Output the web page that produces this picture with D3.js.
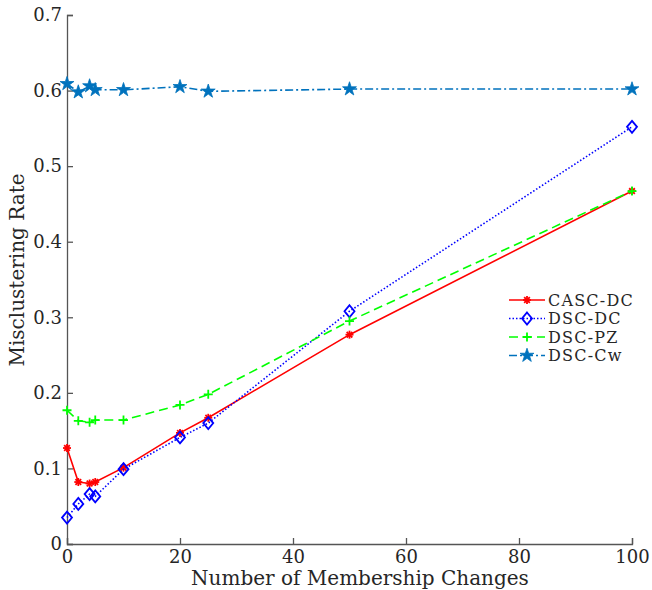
<!DOCTYPE html>
<html><head><meta charset="utf-8">
<script src="https://cdn.jsdelivr.net/npm/d3@7"></script>
<style>body{margin:0;background:#fff}svg{display:block}text{font-family:"DejaVu Serif","Liberation Serif",serif;fill:#262626}</style>
</head><body>
<script>
const xValues = [0, 2, 4, 5, 10, 20, 25, 50, 100];
const cascDC = [0.127, 0.082, 0.080, 0.082, 0.101, 0.147, 0.167, 0.277, 0.467];
const dscDC  = [0.035, 0.053, 0.066, 0.063, 0.099, 0.141, 0.160, 0.308, 0.552];
const dscPZ  = [0.177, 0.163, 0.161, 0.164, 0.164, 0.184, 0.198, 0.295, 0.467];
const dscCw  = [0.609, 0.598, 0.606, 0.601, 0.601, 0.605, 0.599, 0.602, 0.602];
const seriesNames = ["CASC-DC", "DSC-DC", "DSC-PZ", "DSC-Cw"];
const xTicks = [0, 20, 40, 60, 80, 100];
const yTicks = [0, 0.1, 0.2, 0.3, 0.4, 0.5, 0.6, 0.7];

const W = 652, H = 590;
const m = {left: 67, right: 20, top: 15, bottom: 46};
const svg = d3.select("body").append("svg").attr("width", W).attr("height", H);
const x = d3.scaleLinear().domain([0, 100]).range([m.left, W - m.right]);
const y = d3.scaleLinear().domain([0, 0.7]).range([H - m.bottom, m.top]);

const axisColor = "#555";
const gx = svg.append("g").attr("transform", `translate(0,${H - m.bottom})`)
  .call(d3.axisBottom(x).tickValues(xTicks).tickSize(-6).tickPadding(6).tickFormat(d3.format("d")));
const gy = svg.append("g").attr("transform", `translate(${m.left},0)`)
  .call(d3.axisLeft(y).tickValues(yTicks).tickSize(-6).tickPadding(5).tickFormat(d => d === 0 ? "0" : d3.format(".1f")(d)));
[gx, gy].forEach(g => {
  g.attr("font-family", null);
  g.select(".domain").attr("stroke", axisColor).attr("stroke-width", 1.3);
  g.selectAll(".tick line").attr("stroke", axisColor).attr("stroke-width", 1.3);
  g.selectAll(".tick text").attr("font-size", 18).style("font-family", '"DejaVu Serif","Liberation Serif",serif').attr("fill", "#262626");
});

svg.append("text").attr("x", 360).attr("y", 585)
  .attr("text-anchor", "middle").attr("font-size", 20).text("Number of Membership Changes");
svg.append("text").attr("transform", `translate(24,270) rotate(-90)`)
  .attr("text-anchor", "middle").attr("font-size", 20).text("Misclustering Rate");

const series = [
  {name: seriesNames[0], vals: cascDC, color: "#ff0000", dash: null, marker: "asterisk"},
  {name: seriesNames[1], vals: dscDC, color: "#0000ff", dash: "1.5,2", marker: "diamond"},
  {name: seriesNames[2], vals: dscPZ, color: "#00ff00", dash: "9,5", marker: "plus"},
  {name: seriesNames[3], vals: dscCw, color: "#0072BD", dash: "8,3,2,3", marker: "star"}
];

function drawMarker(g, type, cx, cy, color) {
  if (type === "asterisk") {
    const r = 4;
    for (let a = 0; a < 180; a += 45) {
      const t = a * Math.PI / 180;
      g.append("line").attr("x1", cx - r * Math.cos(t)).attr("y1", cy - r * Math.sin(t))
        .attr("x2", cx + r * Math.cos(t)).attr("y2", cy + r * Math.sin(t))
        .attr("stroke", color).attr("stroke-width", 1.8);
    }
  } else if (type === "diamond") {
    g.append("path").attr("d", `M${cx},${cy-6}L${cx+5},${cy}L${cx},${cy+6}L${cx-5},${cy}Z`)
      .attr("fill", "none").attr("stroke", color).attr("stroke-width", 1.8);
  } else if (type === "plus") {
    const r = 4.5;
    g.append("path").attr("d", `M${cx-r},${cy}H${cx+r}M${cx},${cy-r}V${cy+r}`)
      .attr("stroke", color).attr("stroke-width", 1.8);
  } else if (type === "star") {
    g.append("path").attr("d", d3.symbol().type(d3.symbolStar).size(60)())
      .attr("transform", `translate(${cx},${cy})`).attr("fill", color).attr("stroke", color).attr("stroke-width", 0.8);
  }
}

const line = d3.line().x(d => x(d[0])).y(d => y(d[1]));
series.forEach(s => {
  const pts = xValues.map((v, i) => [v, s.vals[i]]);
  const g = svg.append("g");
  g.append("path").attr("d", line(pts)).attr("fill", "none").attr("stroke", s.color)
    .attr("stroke-width", 1.6).attr("stroke-dasharray", s.dash);
  pts.forEach(p => drawMarker(g, s.marker, x(p[0]), y(p[1]), s.color));
});

// legend
const lg = svg.append("g");
series.forEach((s, i) => {
  const ly = 300 + i * 18.5;
  lg.append("line").attr("x1", 509).attr("x2", 545).attr("y1", ly).attr("y2", ly)
    .attr("stroke", s.color).attr("stroke-width", 1.6).attr("stroke-dasharray", s.dash);
  drawMarker(lg, s.marker, 527, ly, s.color);
  lg.append("text").attr("x", 548).attr("y", ly + 5.5).attr("font-size", 16)
    .attr("letter-spacing", 1.2).text(s.name);
});
</script>
</body></html>
